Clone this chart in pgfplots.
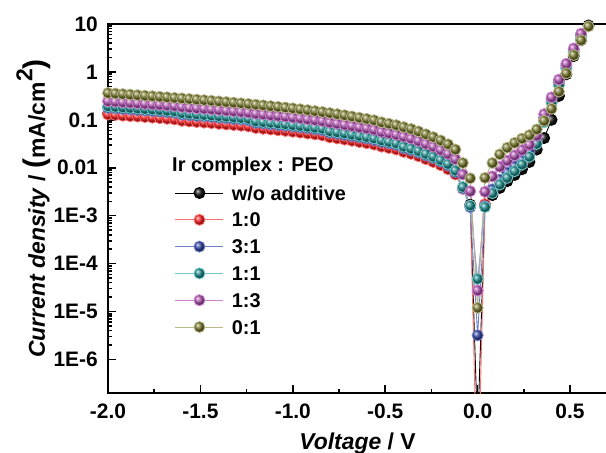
\documentclass[border=0pt]{standalone}
\usepackage{fontspec}
\setmainfont{Liberation Sans}
\usepackage{pgfplots}
\pgfplotsset{compat=1.18}
\usepackage{pgfplotstable}
\definecolor{mBk}{HTML}{151515}
\definecolor{mRd}{HTML}{FF2020}
\definecolor{mBl}{HTML}{3545A5}
\definecolor{mTl}{HTML}{1E8C8C}
\definecolor{mMg}{HTML}{B255B2}
\definecolor{mOl}{HTML}{7A7A2E}
\definecolor{lBk}{HTML}{000000}
\definecolor{lRd}{HTML}{FF7070}
\definecolor{lBl}{HTML}{7080C8}
\definecolor{lTl}{HTML}{70C8C8}
\definecolor{lMg}{HTML}{D080D0}
\definecolor{lOl}{HTML}{B8B888}
\pgfplotstableread{
V bk rd bl tl mg ol
-2.00 0.135 0.129 0.178 0.191 0.245 0.363
-1.96 0.132 0.126 0.174 0.186 0.239 0.354
-1.92 0.128 0.122 0.169 0.181 0.233 0.345
-1.88 0.125 0.119 0.165 0.177 0.228 0.337
-1.84 0.122 0.117 0.160 0.172 0.222 0.328
-1.80 0.119 0.114 0.157 0.168 0.216 0.320
-1.76 0.116 0.111 0.153 0.164 0.211 0.312
-1.72 0.113 0.108 0.149 0.160 0.206 0.304
-1.68 0.110 0.105 0.145 0.155 0.200 0.296
-1.64 0.107 0.102 0.141 0.151 0.195 0.288
-1.60 0.0998 0.0953 0.129 0.138 0.186 0.281
-1.56 0.0969 0.0925 0.125 0.134 0.180 0.273
-1.52 0.0941 0.0899 0.121 0.130 0.175 0.265
-1.48 0.0916 0.0875 0.118 0.126 0.171 0.258
-1.44 0.0891 0.0851 0.115 0.123 0.166 0.251
-1.40 0.0863 0.0824 0.111 0.119 0.161 0.243
-1.36 0.0838 0.0800 0.108 0.116 0.156 0.236
-1.32 0.0813 0.0776 0.104 0.112 0.151 0.229
-1.28 0.0788 0.0753 0.102 0.109 0.147 0.222
-1.24 0.0763 0.0729 0.0980 0.105 0.142 0.215
-1.20 0.0705 0.0673 0.0868 0.0930 0.134 0.208
-1.16 0.0681 0.0650 0.0838 0.0898 0.130 0.201
-1.12 0.0658 0.0628 0.0809 0.0867 0.125 0.194
-1.08 0.0634 0.0605 0.0780 0.0836 0.121 0.187
-1.04 0.0614 0.0586 0.0755 0.0809 0.117 0.181
-1.00 0.0590 0.0563 0.0726 0.0778 0.112 0.174
-0.96 0.0566 0.0541 0.0696 0.0746 0.108 0.167
-0.92 0.0542 0.0518 0.0667 0.0715 0.103 0.160
-0.88 0.0519 0.0496 0.0638 0.0684 0.0988 0.153
-0.84 0.0495 0.0473 0.0609 0.0653 0.0943 0.146
-0.80 0.0450 0.0430 0.0541 0.0580 0.0877 0.139
-0.76 0.0428 0.0409 0.0513 0.0550 0.0833 0.132
-0.72 0.0405 0.0387 0.0486 0.0521 0.0789 0.125
-0.68 0.0382 0.0365 0.0459 0.0492 0.0745 0.118
-0.64 0.0360 0.0344 0.0432 0.0463 0.0700 0.111
-0.60 0.0340 0.0325 0.0409 0.0438 0.0663 0.105
-0.56 0.0318 0.0304 0.0382 0.0409 0.0620 0.0982
-0.52 0.0289 0.0276 0.0347 0.0372 0.0562 0.0891
-0.48 0.0270 0.0258 0.0324 0.0347 0.0525 0.0832
-0.44 0.0251 0.0240 0.0302 0.0324 0.0490 0.0776
-0.40 0.0224 0.0214 0.0257 0.0275 0.0447 0.0708
-0.36 0.0204 0.0195 0.0234 0.0251 0.0408 0.0646
-0.32 0.0182 0.0174 0.0209 0.0224 0.0363 0.0575
-0.28 0.0158 0.0151 0.0182 0.0195 0.0316 0.0501
-0.24 0.0138 0.0132 0.0159 0.0170 0.0276 0.0437
-0.20 0.0118 0.0113 0.0135 0.0145 0.0235 0.0372
-0.16 0.00976 0.00932 0.0112 0.0120 0.0195 0.0309
-0.12 0.00758 0.00724 0.00813 0.00871 0.0151 0.0240
-0.08 0.00381 0.00364 0.00371 0.00398 0.00725 0.0126
-0.04 0.00170 0.00162 0.00151 0.00162 0.00324 0.00603
0.00 3e-8 1e-9 3.2e-6 4.8e-5 2.75e-5 1.2e-5
0.04 0.00170 0.00174 0.00158 0.00151 0.00316 0.00617
0.08 0.00269 0.00316 0.00355 0.00295 0.00661 0.0126
0.12 0.00380 0.00479 0.00562 0.00447 0.0105 0.0191
0.16 0.00525 0.00661 0.00794 0.00617 0.0141 0.0263
0.20 0.00708 0.00912 0.0107 0.00851 0.0182 0.0331
0.24 0.00933 0.0126 0.0145 0.0117 0.0234 0.0407
0.28 0.0132 0.0186 0.0209 0.0170 0.0302 0.0479
0.32 0.0240 0.0355 0.0380 0.0316 0.0468 0.0631
0.36 0.0417 0.100 0.112 0.0891 0.132 0.0955
0.40 0.100 0.240 0.269 0.224 0.295 0.170
0.44 0.316 0.562 0.631 0.525 0.692 0.389
0.48 0.891 1.26 1.38 1.17 1.48 0.933
0.52 2.14 2.69 2.88 2.51 3.09 2.24
0.56 4.57 5.62 5.89 5.25 6.31 4.57
0.60 9.33 11.2 11.7 10.5 12.6 8.91
0.64 18.6 22.4 23.4 20.9 25.1 17.8
0.68 37.2 44.7 46.8 39.8 50.1 35.5
}\jv
\begin{document}
\begin{tikzpicture}
\begin{axis}[
  scale only axis, width=499bp, height=369bp,
  xmin=-2, xmax=0.7, ymode=log, ymin=2e-7, ymax=10,
  tick pos=left, tick align=inside,
  axis line style={line width=2.2bp},
  every tick/.style={black, line width=1.5bp},
  major tick length=8bp, minor tick length=4.5bp,
  xtick={-2,-1.5,-1,-0.5,0,0.5},
  xticklabels={-2.0,-1.5,-1.0,-0.5,0.0,0.5},
  minor xtick={-1.75,-1.25,-0.75,-0.25,0.25},
  ytick={1e-6,1e-5,1e-4,1e-3,0.01,0.1,1,10},
  yticklabels={1E-6,1E-5,1E-4,1E-3,0.01,0.1,1,10},
  ticklabel style={font=\fontsize{21}{21}\selectfont\bfseries, inner sep=0pt},
  xticklabel style={yshift=-11bp},
  yticklabel style={xshift=-10bp},
  xlabel={\textit{Voltage} / V},
  xlabel style={at={(rel axis cs:0.5,-0.1518)}, anchor=base, font=\fontsize{23}{23}\selectfont\bfseries},
  ylabel={\textit{Current density} / {\fontsize{30}{30}\selectfont(}mA/cm\raisebox{0.55em}{2}{\fontsize{30}{30}\selectfont)}},
  ylabel style={at={(rel axis cs:-0.1263,0.5)}, anchor=base, font=\fontsize{23}{23}\selectfont\bfseries},
  legend cell align=left,
  legend image code/.code={\draw[#1, mark repeat=2, mark phase=2] plot coordinates {(0bp,0bp) (24bp,0bp) (48bp,0bp)};},
  legend style={at={(rel axis cs:0.1343,0.5783)}, anchor=north west, draw=none, fill=none,
    inner sep=0pt, outer sep=0pt, row sep=0pt,
    font=\fontsize{20}{20}\selectfont\bfseries,
    nodes={inner sep=0pt, text height=20.4bp, text depth=6.4bp},
    /tikz/every odd column/.append style={column sep=8bp}},
  every axis plot/.append style={line width=0.9bp, mark=ball, mark size=5.5bp},
]
\addplot[color=lBk, mark options={ball color=mBk}] table[x=V, y=bk] {\jv};
\addlegendentry{w/o additive}
\addplot[color=lRd, mark options={ball color=mRd}] table[x=V, y=rd] {\jv};
\addlegendentry{1:0}
\addplot[color=lBl, mark options={ball color=mBl}] table[x=V, y=bl] {\jv};
\addlegendentry{3:1}
\addplot[color=lTl, mark options={ball color=mTl}] table[x=V, y=tl] {\jv};
\addlegendentry{1:1}
\addplot[color=lMg, mark options={ball color=mMg}] table[x=V, y=mg] {\jv};
\addlegendentry{1:3}
\addplot[color=lOl, mark options={ball color=mOl}] table[x=V, y=ol] {\jv};
\addlegendentry{0:1}
\node[anchor=base west, font=\fontsize{20}{20}\selectfont\bfseries, inner sep=0pt] at (rel axis cs:0.1283,0.6016) {Ir complex : PEO};
\coordinate (bl) at (rel axis cs:0,0);
\coordinate (tr) at (rel axis cs:1,1);
\end{axis}
\pgfresetboundingbox
\path[use as bounding box] ([xshift=-108bp, yshift=-60bp]bl) rectangle ([xshift=-1bp, yshift=24bp]tr);
\end{tikzpicture}
\end{document}
